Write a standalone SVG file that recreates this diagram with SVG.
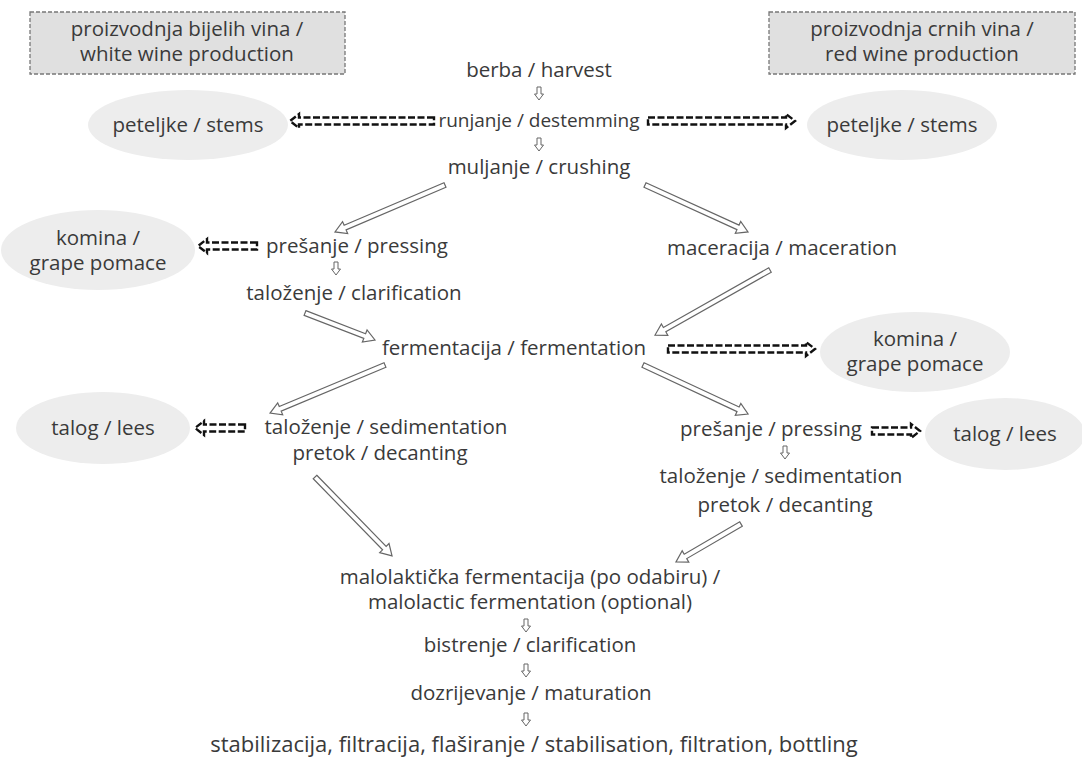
<svg xmlns="http://www.w3.org/2000/svg" width="1082" height="760" viewBox="0 0 1082 760">
<style>
text{font-family:"Open Sans","Noto Sans","Liberation Sans",sans-serif;font-size:20.5px;fill:#3a3a3a;text-anchor:middle}
.box{fill:#e0e0e0;stroke:#777;stroke-width:1.3;stroke-dasharray:4,2}
.ell{fill:#ededed}
.small{fill:#fff;stroke:#666;stroke-width:1}
.big{fill:#fff;stroke:#666;stroke-width:1.2}
.dash{fill:none;stroke:#111;stroke-width:2.4;stroke-dasharray:7,2.5}
</style>
<defs>
<path id="sa" d="M-2,0 H2 V7 H4.5 L0,13 L-4.5,7 H-2 Z"/>
</defs>
<rect width="1082" height="760" fill="#fff"/>
<g id="box-white"><rect class="box" x="30" y="12" width="315" height="62"/><text x="187" y="36">proizvodnja bijelih vina /</text><text x="187" y="61">white wine production</text></g>
<g id="box-red"><rect class="box" x="769" y="12" width="306" height="62"/><text x="922" y="36">proizvodnja crnih vina /</text><text x="922" y="61">red wine production</text></g>
<g id="harvest"><text x="539" y="77">berba / harvest</text></g>
<g id="destemming"><text x="539" y="127" style="font-size:19px">runjanje / destemming</text></g>
<g id="stems-l"><ellipse class="ell" cx="188" cy="125" rx="100" ry="35"/><text x="188" y="132">peteljke / stems</text></g>
<g id="stems-r"><ellipse class="ell" cx="902" cy="125" rx="95" ry="35"/><text x="902" y="132">peteljke / stems</text></g>
<g id="crushing"><text x="539" y="174">muljanje / crushing</text></g>
<g id="pressing-w"><text x="357" y="253">prešanje / pressing</text></g>
<g id="pomace-l"><ellipse class="ell" cx="98" cy="250" rx="97" ry="40"/><text x="98" y="245">komina /</text><text x="98" y="270">grape pomace</text></g>
<g id="clarif-w"><text x="354" y="300">taloženje / clarification</text></g>
<g id="maceration"><text x="782" y="255">maceracija / maceration</text></g>
<g id="fermentation"><text x="514" y="355">fermentacija / fermentation</text></g>
<g id="pomace-r"><ellipse class="ell" cx="915" cy="352" rx="95" ry="40"/><text x="915" y="346">komina /</text><text x="915" y="371">grape pomace</text></g>
<g id="sed-w"><text x="386" y="434">taloženje / sedimentation</text><text x="380" y="460">pretok / decanting</text></g>
<g id="lees-l"><ellipse class="ell" cx="103" cy="428" rx="87" ry="36"/><text x="103" y="435">talog / lees</text></g>
<g id="pressing-r"><text x="771" y="436">prešanje / pressing</text></g>
<g id="lees-r"><ellipse class="ell" cx="1005" cy="434" rx="80" ry="36"/><text x="1005" y="441">talog / lees</text></g>
<g id="sed-r"><text x="781" y="483">taloženje / sedimentation</text><text x="785" y="512">pretok / decanting</text></g>
<g id="malolactic"><text x="530" y="584">malolaktička fermentacija (po odabiru) /</text><text x="530" y="609">malolactic fermentation (optional)</text></g>
<g id="bistrenje"><text x="530" y="652">bistrenje / clarification</text></g>
<g id="maturation"><text x="531" y="700">dozrijevanje / maturation</text></g>
<g id="bottling"><text x="534" y="752" style="font-size:22px">stabilizacija, filtracija, flaširanje / stabilisation, filtration, bottling</text></g>
<g id="connectors">
<use href="#sa" class="small" x="539" y="87"/>
<use href="#sa" class="small" x="539" y="138"/>
<use href="#sa" class="small" x="336" y="262"/>
<use href="#sa" class="small" x="785" y="446"/>
<use href="#sa" class="small" x="526" y="619"/>
<use href="#sa" class="small" x="526" y="664"/>
<use href="#sa" class="small" x="526" y="713"/>
<polygon class="big" transform="translate(445,185) rotate(156.9)" points="0,-2.5 108.6,-2.5 108.6,-6.5 119.6,0 108.6,6.5 108.6,2.5 0,2.5"/>
<polygon class="big" transform="translate(645,185) rotate(24.5)" points="0,-2.5 102.2,-2.5 102.2,-6.5 113.2,0 102.2,6.5 102.2,2.5 0,2.5"/>
<polygon class="big" transform="translate(305,313) rotate(21.1)" points="0,-2.5 64,-2.5 64,-6.5 75,0 64,6.5 64,2.5 0,2.5"/>
<polygon class="big" transform="translate(770,270) rotate(150.5)" points="0,-2.5 121.1,-2.5 121.1,-6.5 132.1,0 121.1,6.5 121.1,2.5 0,2.5"/>
<polygon class="big" transform="translate(385,365) rotate(157.3)" points="0,-2.5 113.6,-2.5 113.6,-6.5 124.6,0 113.6,6.5 113.6,2.5 0,2.5"/>
<polygon class="big" transform="translate(643,365) rotate(25)" points="0,-2.5 104.9,-2.5 104.9,-6.5 115.9,0 104.9,6.5 104.9,2.5 0,2.5"/>
<polygon class="big" transform="translate(315,477) rotate(45.7)" points="0,-2.5 99.3,-2.5 99.3,-6.5 110.3,0 99.3,6.5 99.3,2.5 0,2.5"/>
<polygon class="big" transform="translate(741,524) rotate(149.7)" points="0,-2.5 64.3,-2.5 64.3,-6.5 75.3,0 64.3,6.5 64.3,2.5 0,2.5"/>
<path class="dash" d="M434,117.5 H299 V114 L290,121 L299,128 V124.5 H434 Z"/>
<path class="dash" d="M648,117.5 H786 V114 L795,121 L786,128 V124.5 H648 Z"/>
<path class="dash" d="M257,242.5 H207 V239 L198,246 L207,253 V249.5 H257 Z"/>
<path class="dash" d="M668,345.5 H806 V342 L815,349 L806,356 V352.5 H668 Z"/>
<path class="dash" d="M245,424.5 H204 V421 L195,428 L204,435 V431.5 H245 Z"/>
<path class="dash" d="M872,427.5 H911 V424 L920,431 L911,438 V434.5 H872 Z"/>
</g>
</svg>
